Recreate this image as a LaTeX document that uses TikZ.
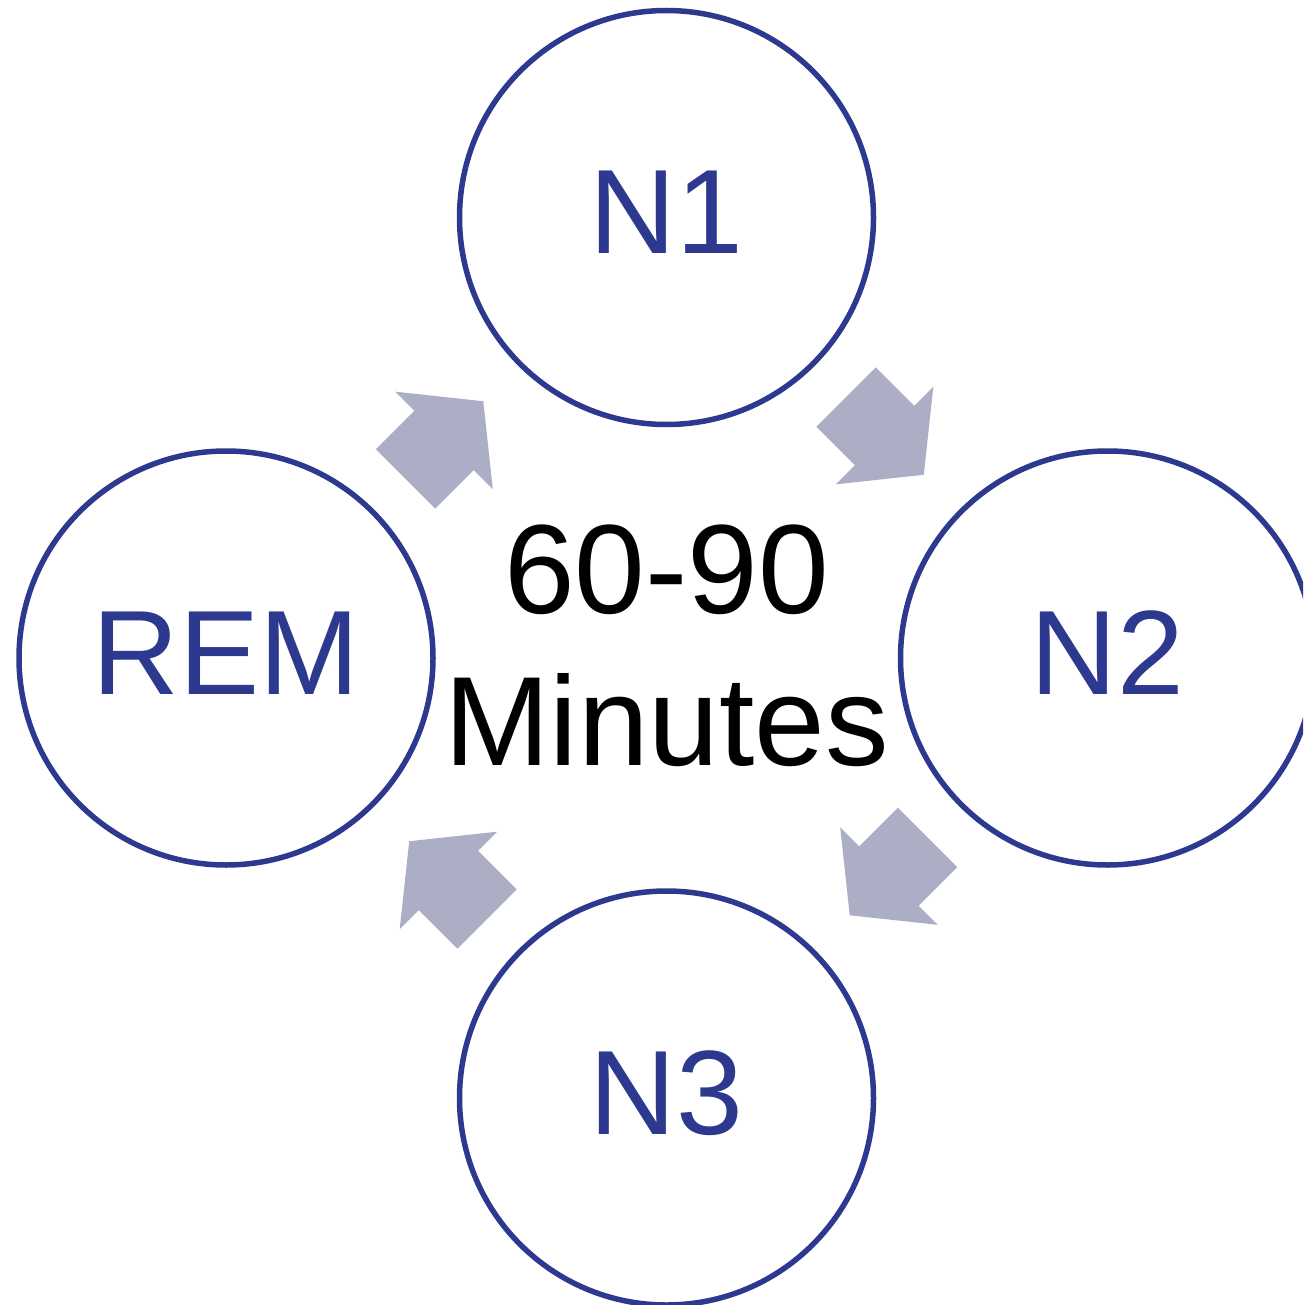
\documentclass[tikz,border=0pt]{standalone}
\usepackage{fontspec}
\setmainfont{Liberation Sans}
\definecolor{sleepblue}{RGB}{44,57,142}
\definecolor{arrowgray}{RGB}{172,174,198}
\tikzset{
  stage/.style={circle, draw=sleepblue, line width=5.5pt, minimum size=414pt, inner sep=0pt, fill=none},
  stagelabel/.style={text=sleepblue, inner sep=0pt, anchor=base, font=\fontsize{120}{144}\selectfont},
  centerlabel/.style={text=black, inner sep=0pt, anchor=base, font=\fontsize{127}{152}\selectfont},
  cyclearrow/.pic={
    \fill[arrowgray] (0,-42) -- (54.5,-42) -- (54.5,-69) -- (110,0) -- (54.5,69) -- (54.5,42) -- (0,42) -- cycle;
  }
}
\begin{document}
\begin{tikzpicture}[x=1pt,y=-1pt]
\useasboundingbox (0,0) rectangle (1303,1305);
\clip (0,0) rectangle (1303,1305);
% stages
\node[stage] (n1) at (666.5,217.5) {};
\node[stage] (n2) at (1107.5,658) {};
\node[stage] (n3) at (666.5,1098) {};
\node[stage] (rem) at (226,658) {};
\node[stagelabel] (n1t) at ([yshift=-36.5pt]n1.center) {N1};
\node[stagelabel] (n2t) at ([yshift=-36pt]n2.center) {N2};
\node[stagelabel] (n3t) at ([yshift=-36pt]n3.center) {N3};
\node[stagelabel] (remt) at ([yshift=-36pt]rem.center) {REM};
% centre text
\node[centerlabel] (dur) at (666.5,613) {60-90};
\node[centerlabel] (unit) at (666.5,765) {Minutes};
% block arrows
\pic[rotate=-45] at (846,397) {cyclearrow};
\pic[rotate=-135] at (927.5,837.5) {cyclearrow};
\pic[rotate=135] at (487,919) {cyclearrow};
\pic[rotate=45] at (405.5,479) {cyclearrow};
\end{tikzpicture}
\end{document}
